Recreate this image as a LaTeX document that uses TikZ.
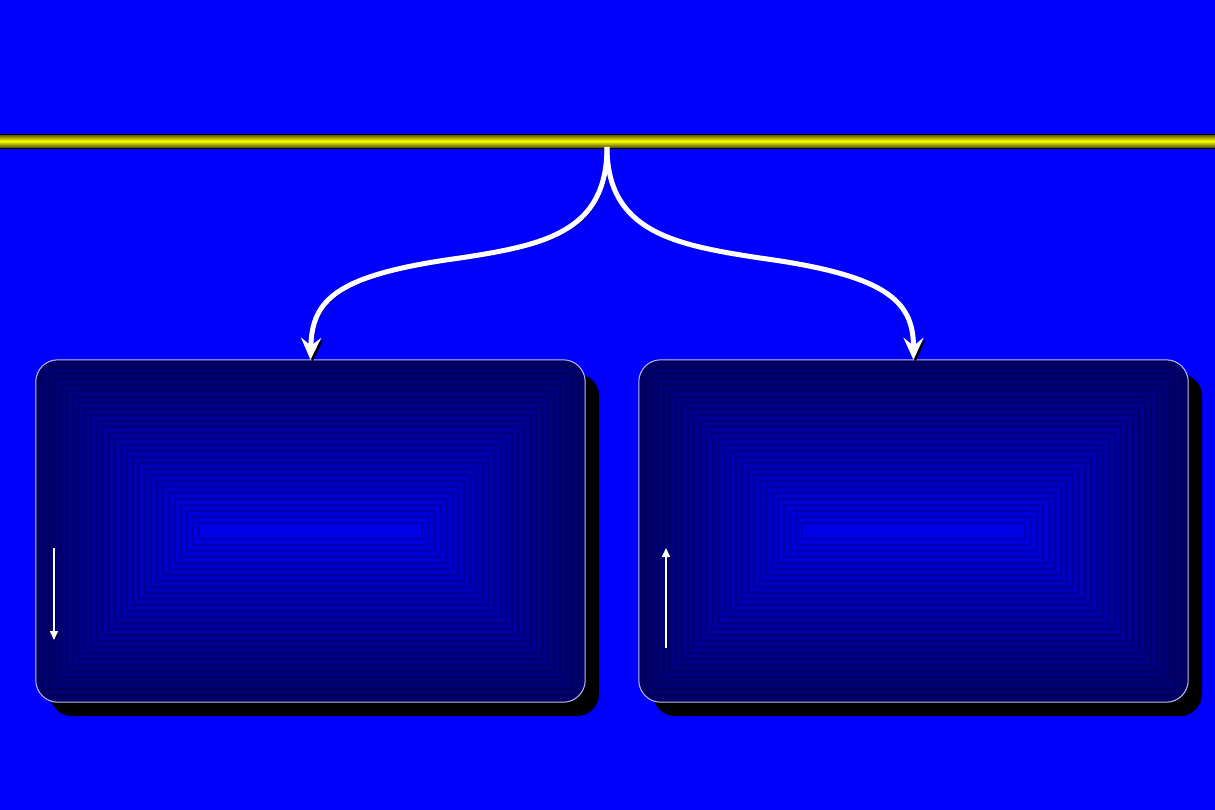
\documentclass[tikz,border=0pt]{standalone}
\usetikzlibrary{arrows.meta}
\usetikzlibrary{shadows}
\usetikzlibrary{calc}
\definecolor{boxout}{RGB}{0,0,105}
\definecolor{boxin}{RGB}{0,0,228}
\definecolor{bardark}{RGB}{70,70,0}
\begin{document}
\begin{tikzpicture}[x=1bp,y=-1bp,
    bar/.style={draw=black,line width=1bp,minimum width=1215bp,minimum height=14bp,inner sep=0pt,
      top color=bardark,bottom color=bardark,middle color=yellow},
    panel/.style={minimum width=549bp,minimum height=342bp,inner sep=0pt,rounded corners=22bp,
      fill=boxout,drop shadow={shadow xshift=14bp,shadow yshift=-14bp,fill=black,opacity=1}},
    rim/.style={draw=white!75!blue,line width=1bp,rounded corners=22bp},
    flow/.style={white,line width=5bp,-{Stealth[length=22bp,width=20bp,inset=8bp]},
      preaction={draw=black,transform canvas={shift={(2bp,-2bp)}}}},
    small/.style={white,line width=1.6bp,-{Triangle[length=9bp,width=8bp]},
      preaction={draw=black,transform canvas={shift={(1.2bp,-1.2bp)}}}}]
    \fill[blue] (0,0) rectangle (1215,810);
    \useasboundingbox (0,0) rectangle (1215,810);
    \node[bar] (bar) at (607.5,141) {};
    \node[panel] (left) at (310.5,531) {};
    \node[panel] (right) at (913.5,531) {};
    % stepped fill of the two panels
    \foreach \pn in {left,right} {
      \begin{scope}
        \clip[rounded corners=22bp] (\pn.south west) rectangle (\pn.north east);
        \foreach \i in {0,...,27} {
          \pgfmathtruncatemacro\q{round(100*\i/27)}
          \pgfmathtruncatemacro\m{6*\i}
          \pgfmathtruncatemacro\n{6*\i+2}
          \fill[boxin!\q!boxout!78!black]
            ($(\pn.south west)+(\m,-\m)$) |- ($(\pn.north east)+(-\m,\m)$)
            |- cycle;
          \fill[boxin!\q!boxout]
            ($(\pn.south west)+(\n,-\n)$) |- ($(\pn.north east)+(-\n,\n)$)
            |- cycle;
        }
      \end{scope}
      \draw[rim] (\pn.south west) rectangle (\pn.north east);
    }
    \coordinate (fork) at (607,147);
    \coordinate (lmid) at (460,258);
    \coordinate (rmid) at (760,258);
    \draw[flow] (fork) .. controls (607,232) and (545,245) .. (lmid)
      .. controls (335,275) and (312,300) .. (left.north);
    \draw[flow] (fork) .. controls (607,232) and (675,245) .. (rmid)
      .. controls (885,275) and (913.5,300) .. (right.north);
    \coordinate (ldtop) at (54,548);
    \coordinate (ldbot) at (54,640);
    \coordinate (rutop) at (666,548);
    \coordinate (rubot) at (666,648);
    \draw[small] (ldtop) -- (ldbot);
    \draw[small] (rubot) -- (rutop);
\end{tikzpicture}
\end{document}
